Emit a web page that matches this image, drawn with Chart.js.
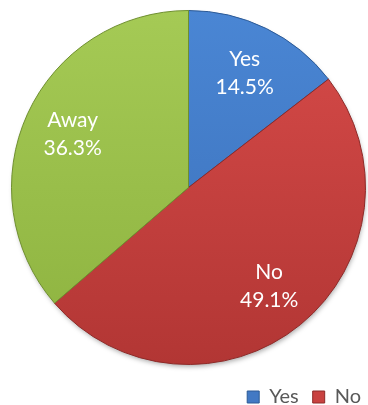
<!DOCTYPE html>
<html>
<head>
<meta charset="utf-8">
<script src="https://cdn.jsdelivr.net/npm/chart.js@4/dist/chart.umd.min.js"></script>
<style>
  html, body { margin: 0; padding: 0; background: #ffffff; overflow: hidden; }
  #wrap { width: 368px; height: 405px; position: relative; }
</style>
</head>
<body>
<div id="wrap"><canvas id="c" width="368" height="405"></canvas></div>
<script>
const categories = ["Yes", "No", "Away"];
const percentValues = [14.5, 49.1, 36.3];
const legendShown = ["Yes", "No"];

const topColors = ["#4a86d4", "#d74b49", "#a5ca55"];
const bottomColors = ["#3a6fb8", "#b23634", "#8db23f"];
const solidColors = ["#4279c4", "#c94240", "#9ac048"];
const edgeColors = ["#2c5a96", "#8e2a28", "#6f8f30"];

function gradientFor(ctx, i) {
  const area = ctx.chart.chartArea;
  if (!area) return solidColors[i];
  const g = ctx.chart.ctx.createLinearGradient(0, area.top, 0, area.bottom);
  g.addColorStop(0, topColors[i]);
  g.addColorStop(1, bottomColors[i]);
  return g;
}

const legendShift = {
  id: 'legendShift',
  afterLayout(chart) {
    const lg = chart.legend;
    if (!lg) return;
    const dx = 8, dy = 8;
    lg.left += dx; lg.right += dx;
    lg.top += dy; lg.bottom += dy;
  }
};

const shadowPlugin = {
  id: 'pieShadow',
  beforeDatasetsDraw(chart) {
    const arc = chart.getDatasetMeta(0).data[0];
    if (!arc) return;
    const ctx = chart.ctx;
    ctx.save();
    ctx.shadowColor = 'rgba(0,0,0,0.35)';
    ctx.shadowBlur = 5;
    ctx.shadowOffsetY = 3;
    ctx.shadowOffsetX = 1;
    ctx.beginPath();
    ctx.arc(arc.x, arc.y, arc.outerRadius - 1, 0, Math.PI * 2);
    ctx.fillStyle = '#a04040';
    ctx.fill();
    ctx.restore();
  }
};

const labelPlugin = {
  id: 'sliceLabels',
  afterDatasetsDraw(chart) {
    const ctx = chart.ctx;
    const meta = chart.getDatasetMeta(0);
    ctx.save();
    ctx.fillStyle = '#ffffff';
    ctx.font = '21px Lato, "Open Sans", sans-serif';
    ctx.textAlign = 'center';
    ctx.textBaseline = 'middle';
    meta.data.forEach((arc, i) => {
      const mid = (arc.startAngle + arc.endAngle) / 2;
      const r = arc.outerRadius * 0.72;
      const x = arc.x + Math.cos(mid) * r;
      const y = arc.y + Math.sin(mid) * r;
      ctx.fillText(categories[i], x, y - 14);
      ctx.fillText(percentValues[i].toFixed(1) + '%', x, y + 14);
    });
    ctx.restore();
  }
};

new Chart(document.getElementById('c'), {
  type: 'pie',
  data: {
    labels: categories,
    datasets: [{
      data: percentValues,
      backgroundColor: (ctx) => gradientFor(ctx, ctx.dataIndex),
      borderColor: edgeColors,
      borderWidth: 1,
      hoverOffset: 0
    }]
  },
  options: {
    responsive: false,
    animation: false,
    devicePixelRatio: 1,
    layout: { padding: { top: 10, left: 10, right: 1, bottom: -4 } },
    plugins: {
      tooltip: { enabled: false },
      legend: {
        display: true,
        position: 'bottom',
        align: 'end',
        labels: {
          color: '#595959',
          font: { family: 'Lato, "Open Sans", sans-serif', size: 20 },
          boxWidth: 12,
          boxHeight: 12,
          padding: 14,
          filter: (item) => legendShown.includes(item.text),
          generateLabels: (chart) => categories.map((name, i) => ({
            text: name,
            fillStyle: solidColors[i],
            strokeStyle: edgeColors[i],
            lineWidth: 1,
            hidden: false,
            index: i,
            fontColor: '#595959'
          }))
        }
      }
    }
  },
  plugins: [legendShift, shadowPlugin, labelPlugin]
});
</script>
</body>
</html>
